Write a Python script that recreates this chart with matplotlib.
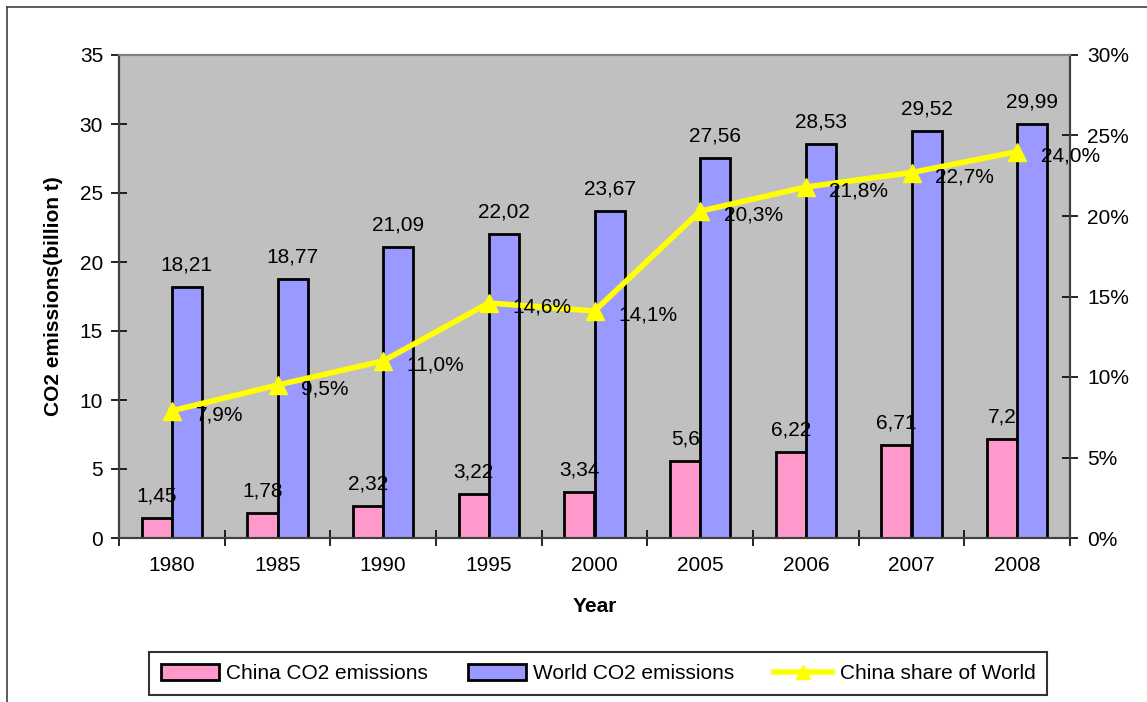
import numpy as np
import matplotlib.pyplot as plt
from matplotlib.lines import Line2D
from matplotlib.patches import Patch
from matplotlib.ticker import FuncFormatter

plt.rcParams['font.family'] = ['Liberation Sans', 'DejaVu Sans']

years = ['1980', '1985', '1990', '1995', '2000', '2005', '2006', '2007', '2008']
china = [1.45, 1.78, 2.32, 3.22, 3.34, 5.6, 6.22, 6.71, 7.2]
world = [18.21, 18.77, 21.09, 22.02, 23.67, 27.56, 28.53, 29.52, 29.99]
share = [7.9, 9.5, 11.0, 14.6, 14.1, 20.3, 21.8, 22.7, 24.0]

pink = '#FF99CC'
blue = '#9999FF'
yellow = '#FFFF00'
fs = 15


def comma(v):
    return str(v).replace('.', ',')


W, H = 1147, 702
fig = plt.figure(figsize=(W / 100, H / 100), dpi=100)
ax = fig.add_axes([119 / W, 1 - 538 / H, (1070 - 119) / W, (538 - 55) / H])
ax.set_facecolor('#C0C0C0')

x = np.arange(len(years))
bw = 0.284
ax.bar(x - bw / 2, china, bw, color=pink, edgecolor='black', linewidth=2, zorder=2)
ax.bar(x + bw / 2, world, bw, color=blue, edgecolor='black', linewidth=2, zorder=2)

for xi, c, w in zip(x, china, world):
    ax.annotate(comma(c), (xi - bw / 2, c), xytext=(0, 9), textcoords='offset points',
                ha='center', va='bottom', fontsize=fs, zorder=5)
    ax.annotate(comma(w), (xi + bw / 2, w), xytext=(0, 9), textcoords='offset points',
                ha='center', va='bottom', fontsize=fs, zorder=5)

ax.set_xlim(-0.5, len(years) - 0.5)
ax.set_ylim(0, 35)
ax.set_yticks(range(0, 36, 5))
ax.set_xticks(x)
ax.set_xticklabels(years)
ax.set_xticks(np.arange(-0.5, len(years)), minor=True)
ax.tick_params(axis='x', which='major', length=0, pad=13, labelsize=fs)
ax.tick_params(axis='x', which='minor', direction='inout', length=11, width=1.2)
ax.tick_params(axis='y', direction='inout', length=11, width=1.2, pad=6, labelsize=fs)

ax.set_xlabel('Year', fontsize=fs, fontweight='bold', labelpad=16)
ax.set_ylabel('CO2 emissions(billion t)', fontsize=fs, fontweight='bold')
ax.yaxis.set_label_coords(-0.059, 0.5)

ax2 = ax.twinx()
ax2.plot(x, share, color=yellow, linewidth=4, marker='^', markersize=13,
         markeredgecolor=yellow, zorder=4)
for xi, s in zip(x, share):
    ax2.annotate(f'{s:.1f}%'.replace('.', ','), (xi, s), xytext=(17, -3),
                 textcoords='offset points', ha='left', va='center', fontsize=fs, zorder=5)
ax2.set_ylim(0, 30)
ax2.set_yticks(range(0, 31, 5))
ax2.yaxis.set_major_formatter(FuncFormatter(lambda v, p: f'{v:.0f}%'))
ax2.tick_params(axis='y', direction='inout', length=11, width=1.2, pad=7, labelsize=fs)

for a in (ax, ax2):
    a.spines['top'].set_color('#808080')
    a.spines['top'].set_linewidth(1.5)
    for s in ('left', 'right', 'bottom'):
        a.spines[s].set_color('#404040')
        a.spines[s].set_linewidth(1.5)

handles = [Patch(facecolor=pink, edgecolor='black', linewidth=2),
           Patch(facecolor=blue, edgecolor='black', linewidth=2),
           Line2D([], [], color=yellow, linewidth=4, marker='^', markersize=10)]
labels = ['China CO2 emissions', 'World CO2 emissions', 'China share of World']
leg = fig.legend(handles, labels, loc='center', bbox_to_anchor=(598 / W, 1 - 673.5 / H),
                 ncol=3, fontsize=fs, frameon=True, fancybox=False, borderpad=0.55,
                 columnspacing=1.9, handlelength=2.8, handleheight=0.8, handletextpad=0.35,
                 borderaxespad=0)
leg.get_frame().set_edgecolor('black')
leg.get_frame().set_linewidth(1.5)

# chart-area border on the left and top
fig.add_artist(Line2D([7 / W, 7 / W], [0, 1 - 7 / H], color='#404040', linewidth=1.2))
fig.add_artist(Line2D([7 / W, 1], [1 - 7 / H, 1 - 7 / H], color='#404040', linewidth=1.2))

fig.savefig('out.png', dpi=100)
